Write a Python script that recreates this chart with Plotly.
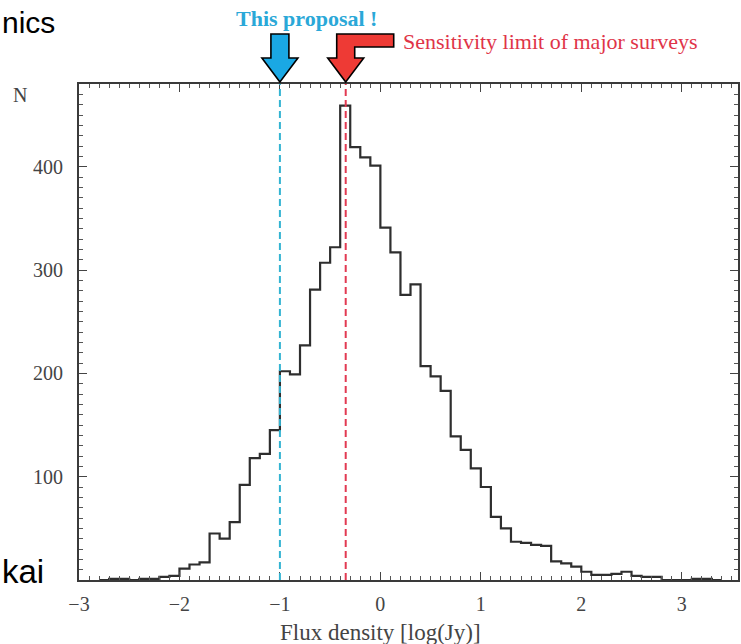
import plotly.graph_objects as go

# ---- data ----
bin_left = [-2.8, -2.7, -2.6, -2.5, -2.4, -2.3, -2.2, -2.1, -2.0, -1.9,
            -1.8, -1.7, -1.6, -1.5, -1.4, -1.3, -1.2, -1.1, -1.0, -0.9,
            -0.8, -0.7, -0.6, -0.5, -0.4, -0.3, -0.2, -0.1, 0.0, 0.1,
            0.2, 0.3, 0.4, 0.5, 0.6, 0.7, 0.8, 0.9, 1.0, 1.1,
            1.2, 1.3, 1.4, 1.5, 1.6, 1.7, 1.8, 1.9, 2.0, 2.1,
            2.2, 2.3, 2.4, 2.5, 2.6, 2.7, 2.8, 2.9, 3.0, 3.1,
            3.2, 3.3]
counts = [0, 1, 1, 0, 1, 1, 3, 4, 11, 15,
          17, 45, 40, 56, 92, 118, 122, 145, 202, 199,
          227, 281, 307, 322, 459, 419, 409, 401, 341, 317,
          276, 286, 207, 197, 183, 139, 126, 108, 90, 61,
          50, 37, 36, 34, 33, 18, 16, 13, 8, 5,
          5, 6, 8, 4, 3, 3, 0, 0, 0, 1,
          1, 0]
bin_width = 0.1
proposal_limit = -1.0
survey_limit = -0.345
x_ticks = [-3, -2, -1, 0, 1, 2, 3]
y_ticks = [100, 200, 300, 400]

X_MIN, X_MAX = -3.0, 3.56
Y_MIN, Y_MAX = 0, 480

SERIF = "Liberation Serif, Times New Roman, serif"
SANS = "Liberation Sans, Arial, sans-serif"
CYAN_LINE = "#33b4d2"
RED_LINE = "#e23a52"

step_x = bin_left + [bin_left[-1] + bin_width]
step_y = counts + [counts[-1]]

fig = go.Figure()
fig.add_trace(go.Scatter(
    x=step_x, y=step_y, mode="lines",
    line=dict(shape="hv", color="#2e2e2e", width=2.2),
    showlegend=False, hoverinfo="skip"))

# vertical dashed limit lines
for xv, col in [(proposal_limit, CYAN_LINE), (survey_limit, RED_LINE)]:
    fig.add_shape(type="line", xref="x", yref="paper", x0=xv, x1=xv, y0=0, y1=1,
                  line=dict(color=col, width=2, dash="7px,4px"), layer="above")

def xpaper(v):
    return (v - X_MIN) / (X_MAX - X_MIN)

# arrows (pixel-sized paths anchored at the limit positions, top of plot)
blue_path = "M 0,2 L -18,26 L -9,26 L -9,50 L 9,50 L 9,26 L 18,26 Z"
red_path = "M 0,2 L -18,26 L -9,26 L -9,50 L 48,50 L 48,37 L 9,37 L 9,26 L 18,26 Z"
fig.add_shape(type="path", xref="paper", yref="paper",
              xsizemode="pixel", ysizemode="pixel",
              xanchor=xpaper(proposal_limit), yanchor=1, path=blue_path,
              fillcolor="#1aa8e4", line=dict(color="black", width=1.6), layer="above")
fig.add_shape(type="path", xref="paper", yref="paper",
              xsizemode="pixel", ysizemode="pixel",
              xanchor=xpaper(survey_limit), yanchor=1, path=red_path,
              fillcolor="#ee3a35", line=dict(color="black", width=1.6), layer="above")

annotations = [
    dict(text="<b>This proposal !</b>", x=0.345, y=1.133, xref="paper", yref="paper",
         showarrow=False, xanchor="center", yanchor="middle",
         font=dict(family=SERIF, size=22, color="#2aa8d8")),
    dict(text="Sensitivity limit of major surveys", x=0.488, y=1.085, xref="paper", yref="paper",
         showarrow=False, xanchor="left", yanchor="middle",
         font=dict(family=SERIF, size=22, color="#e03448")),
    dict(text="N", x=-0.089, y=0.978, xref="paper", yref="paper",
         showarrow=False, xanchor="center", yanchor="middle",
         font=dict(family=SERIF, size=20, color="#444444")),
    dict(text="Flux density [log(Jy)]", x=0, y=-0.105, xref="x", yref="paper",
         showarrow=False, xanchor="center", yanchor="middle",
         font=dict(family=SERIF, size=23, color="#444444")),
    dict(text="nics", x=-0.033, y=1.125, xref="paper", yref="paper",
         showarrow=False, xanchor="right", yanchor="middle",
         font=dict(family=SANS, size=30, color="black")),
    dict(text="kai", x=-0.050, y=0.018, xref="paper", yref="paper",
         showarrow=False, xanchor="right", yanchor="middle",
         font=dict(family=SANS, size=33, color="black")),
]

fig.update_layout(
    width=741, height=644,
    margin=dict(l=79, r=1, t=84, b=64),
    paper_bgcolor="white", plot_bgcolor="white",
    annotations=annotations,
    xaxis=dict(
        range=[X_MIN, X_MAX], tickvals=x_ticks,
        ticks="inside", ticklen=8, tickwidth=1.2, tickcolor="#444",
        minor=dict(dtick=0.1, ticks="inside", ticklen=4, tickwidth=1, tickcolor="#555"),
        showline=True, linecolor="#3a3a3a", linewidth=1.8, mirror="ticks",
        showgrid=False, zeroline=False,
        tickfont=dict(family=SERIF, size=20, color="#444"),
        ticklabelstandoff=5,
    ),
    yaxis=dict(
        range=[Y_MIN, Y_MAX], tickvals=y_ticks,
        ticks="inside", ticklen=8, tickwidth=1.2, tickcolor="#444",
        minor=dict(dtick=10, ticks="inside", ticklen=4, tickwidth=1, tickcolor="#555"),
        showline=True, linecolor="#3a3a3a", linewidth=1.8, mirror="ticks",
        showgrid=False, zeroline=False,
        tickfont=dict(family=SERIF, size=20, color="#444"),
        ticklabelstandoff=10,
    ),
)

fig.write_html("out.html")
